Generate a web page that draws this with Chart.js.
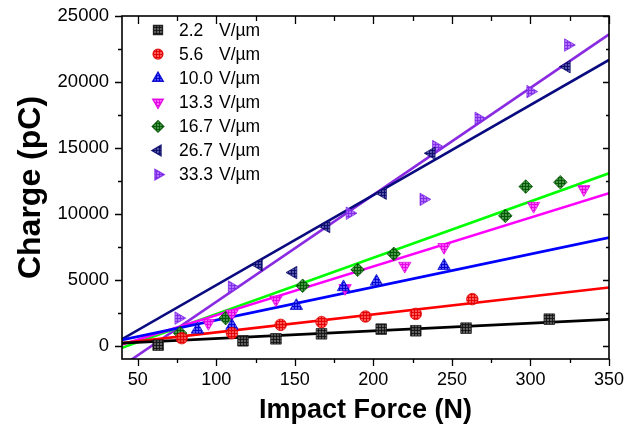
<!DOCTYPE html>
<html>
<head>
<meta charset="utf-8">
<script src="https://cdn.jsdelivr.net/npm/chart.js@4.4.1/dist/chart.umd.min.js"></script>
<style>
  html, body { margin: 0; padding: 0; background: #ffffff; }
  #wrap { width: 624px; height: 428px; position: relative; }
</style>
</head>
<body>
<div id="wrap"><canvas id="chart" width="624" height="428"></canvas></div>
<script>
// Field strengths (legend numbers) and unit
const fieldLabels = ['2.2', '5.6', '10.0', '13.3', '16.7', '26.7', '33.3'];
const unitLabel = 'V/µm';

// Measured charge (pC) against impact force (N), one pair of arrays per field
const force22 = [63, 117, 138, 167, 205, 227, 259, 312];
const charge22 = [50, 380, 530, 910, 1265, 1140, 1340, 2020];

const force56 = [78, 110, 141, 167, 195, 227, 263];
const charge56 = [580, 960, 1590, 1800, 2220, 2420, 3540];

const force100 = [88, 110, 151, 181, 202, 245];
const charge100 = [1230, 1520, 3030, 4450, 4870, 6060];

const force133 = [95, 110, 138, 182, 220, 245, 302, 334];
const charge133 = [1720, 2450, 3500, 4370, 6060, 7480, 10600, 11870];

const force167 = [77, 106, 155, 190, 213, 284, 297, 319];
const charge167 = [960, 2100, 4550, 5760, 6970, 9850, 12070, 12400];

const force267 = [127, 149, 170, 206, 237, 323];
const charge267 = [6140, 5550, 9040, 11570, 14600, 21160];

const force333 = [76, 110, 185, 232, 240, 267, 300, 324];
const charge333 = [2100, 4450, 10050, 11100, 15100, 17250, 19270, 22800];

// Linear fits: charge at the two ends of the force range
const fitForce = [40, 350];
const fitChargeStart = [200, 200, 450, 100, -150, 500, -1535];
const fitChargeEnd = [2000, 4420, 8200, 11570, 13080, 21670, 23610];

// Axis ticks
const forceTicks = [50, 100, 150, 200, 250, 300, 350];
const chargeTicks = [0, 5000, 10000, 15000, 20000, 25000];

const forces = [force22, force56, force100, force133, force167, force267, force333];
const charges = [charge22, charge56, charge100, charge133, charge167, charge267, charge333];

// Marker and line styling per series
const looks = [
  { shape: 'rect',     rot: 0,   r: 7.5, fill: 'rgba(85,85,85,0.92)',   grid: 'rgba(20,20,20,0.9)',  line: '#000000' },
  { shape: 'circle',   rot: 0,   r: 5.8, fill: 'rgba(255,70,70,0.9)',   grid: 'rgba(225,0,0,0.9)',   line: '#ff0000' },
  { shape: 'triangle', rot: 0,   r: 7.2, fill: 'rgba(70,70,255,0.9)',   grid: 'rgba(0,0,205,0.9)',   line: '#0000ff' },
  { shape: 'triangle', rot: 180, r: 7.2, fill: 'rgba(255,80,255,0.9)',  grid: 'rgba(225,0,225,0.9)', line: '#ff00ff' },
  { shape: 'rectRot',  rot: 0,   r: 6.8, fill: 'rgba(60,140,60,0.92)',  grid: 'rgba(0,85,0,0.9)',    line: '#00ff00' },
  { shape: 'triangle', rot: -90, r: 7.2, fill: 'rgba(70,70,160,0.9)',   grid: 'rgba(10,10,105,0.9)', line: '#0a0a80' },
  { shape: 'triangle', rot: 90,  r: 7.2, fill: 'rgba(170,100,255,0.9)', grid: 'rgba(125,40,230,0.9)',line: '#8a2be2' }
];

function hatch(fill, grid) {
  const c = document.createElement('canvas');
  c.width = 3; c.height = 3;
  const g = c.getContext('2d');
  g.fillStyle = fill; g.fillRect(0, 0, 3, 3);
  g.fillStyle = grid; g.fillRect(0, 0, 3, 1); g.fillRect(0, 0, 1, 3);
  return g.createPattern(c, 'repeat');
}

const FONT = '"Liberation Sans", Arial, Helvetica, sans-serif';
const datasets = [];
looks.forEach((lk, i) => {
  const pattern = hatch(lk.fill, lk.grid);
  lk.pattern = pattern;
  datasets.push({
    label: fieldLabels[i] + ' ' + unitLabel,
    data: forces[i].map((f, j) => ({ x: f, y: charges[i][j] })),
    pointStyle: lk.shape,
    rotation: lk.rot,
    pointRadius: lk.r,
    pointHoverRadius: lk.r,
    backgroundColor: pattern,
    borderColor: lk.grid,
    borderWidth: 0.8,
    showLine: false,
    order: 0
  });
  datasets.push({
    label: 'fit ' + fieldLabels[i],
    data: [{ x: fitForce[0], y: fitChargeStart[i] }, { x: fitForce[1], y: fitChargeEnd[i] }],
    borderColor: lk.line,
    borderWidth: 2.6,
    pointRadius: 0,
    showLine: true,
    fill: false,
    order: 1
  });
});

// Box frame, major/minor ticks and the inset legend
const framePlugin = {
  id: 'frameTicks',
  afterDraw(chart) {
    const { ctx, chartArea: a, scales: { x, y } } = chart;
    ctx.save();
    ctx.strokeStyle = '#000';
    ctx.lineWidth = 1.6;
    ctx.strokeRect(a.left, a.top, a.right - a.left, a.bottom - a.top);
    ctx.lineWidth = 1.3;
    ctx.beginPath();
    const xs = [];
    forceTicks.forEach((v, k) => {
      xs.push([v, 7]);
      if (k < forceTicks.length - 1) xs.push([(v + forceTicks[k + 1]) / 2, 4]);
    });
    xs.forEach(([v, len]) => {
      if (v < x.min || v > x.max) return;
      const px = Math.round(x.getPixelForValue(v)) + 0.5;
      ctx.moveTo(px, a.bottom); ctx.lineTo(px, a.bottom + len);
      ctx.moveTo(px, a.top); ctx.lineTo(px, a.top + len + 1);
    });
    const ys = [];
    chargeTicks.forEach((v, k) => {
      ys.push([v, 7]);
      if (k < chargeTicks.length - 1) ys.push([(v + chargeTicks[k + 1]) / 2, 4]);
    });
    ys.forEach(([v, len]) => {
      const py = Math.round(y.getPixelForValue(v)) + 0.5;
      ctx.moveTo(a.left, py); ctx.lineTo(a.left - len, py);
      ctx.moveTo(a.right, py); ctx.lineTo(a.right - len + 1, py);
    });
    ctx.stroke();

    // legend
    const lx = a.left + 36, nx = a.left + 57, ux = a.left + 97;
    ctx.font = '17.5px ' + FONT;
    ctx.fillStyle = '#000';
    ctx.textBaseline = 'middle';
    ctx.textAlign = 'left';
    fieldLabels.forEach((lab, i) => {
      const ly = a.top + 14 + i * 24.1;
      const lk = looks[i];
      ctx.fillStyle = lk.pattern;
      ctx.strokeStyle = lk.grid;
      Chart.helpers.drawPoint(ctx, { pointStyle: lk.shape, rotation: lk.rot, radius: lk.r * 0.85, borderWidth: 0.8 }, lx, ly);
      ctx.fillStyle = '#000';
      ctx.fillText(lab, nx, ly + 1);
      ctx.fillText(unitLabel, ux, ly + 1);
    });
    ctx.restore();
  }
};

new Chart(document.getElementById('chart'), {
  type: 'scatter',
  data: { datasets },
  plugins: [framePlugin],
  options: {
    responsive: false,
    animation: false,
    events: [],
    layout: { padding: { top: 16, right: 15, left: 0, bottom: 0 } },
    plugins: { legend: { display: false }, tooltip: { enabled: false } },
    scales: {
      x: {
        type: 'linear',
        min: 40, max: 350,
        afterBuildTicks: (s) => { s.ticks = forceTicks.map(v => ({ value: v })); },
        afterFit: (s) => { s.height = 69; s.paddingLeft = 0; s.paddingRight = 0; },
        grid: { display: false, drawTicks: false },
        border: { display: false },
        ticks: { color: '#000', font: { family: FONT, size: 18 }, padding: 10, maxRotation: 0, autoSkip: false, callback: (v) => String(v) },
        title: { display: true, text: 'Impact Force (N)', color: '#000', font: { family: FONT, size: 27, weight: 'bold' }, padding: { top: 0, bottom: 1 } }
      },
      y: {
        type: 'linear',
        min: -1000, max: 25000,
        afterBuildTicks: (s) => { s.ticks = chargeTicks.map(v => ({ value: v })); },
        afterFit: (s) => { s.width = 122; s.paddingTop = 0; s.paddingBottom = 0; },
        grid: { display: false, drawTicks: false },
        border: { display: false },
        ticks: { color: '#000', font: { family: FONT, size: 18.5 }, padding: 13, autoSkip: false, callback: (v) => String(v) },
        title: { display: true, text: 'Charge (pC)', color: '#000', font: { family: FONT, size: 32, weight: 'bold' }, padding: { top: 12, bottom: 0 } }
      }
    }
  }
});
</script>
</body>
</html>
